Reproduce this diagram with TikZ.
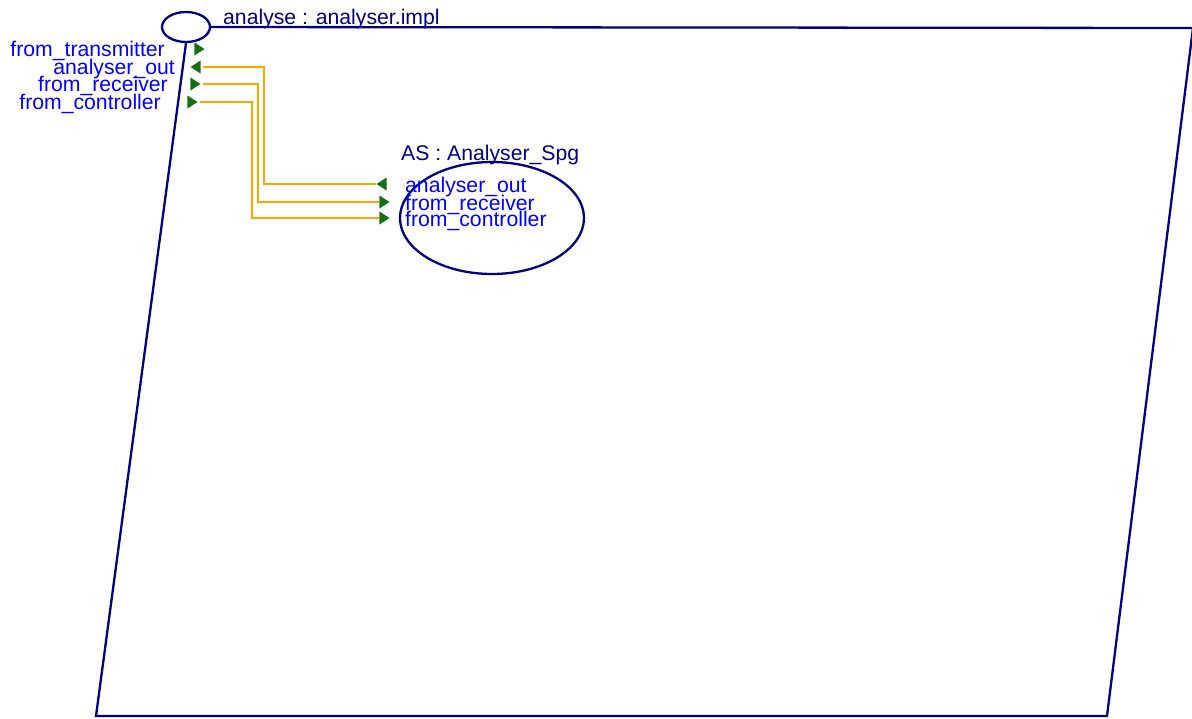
\documentclass[tikz,border=0pt]{standalone}
\usepackage{fontspec}
\setmainfont{Liberation Sans}
\usetikzlibrary{shapes.geometric}
\definecolor{framec}{HTML}{000080}
\definecolor{labelc}{HTML}{0000FF}
\definecolor{portc}{HTML}{157015}
\definecolor{wirec}{HTML}{FFA500}

\begin{document}
\begin{tikzpicture}[
  x=1pt,y=-1pt,
  font=\fontsize{21.2}{24}\selectfont,
  frame/.style={draw=framec,line width=2.3pt},
  ptitle/.style={text=framec,inner sep=0pt},
  plabel/.style={text=labelc,inner sep=0pt},
  portin/.style={isosceles triangle,isosceles triangle stretches,fill=portc,
    inner sep=0pt,minimum height=10pt,minimum width=13pt,shape border rotate=0},
  portout/.style={portin,shape border rotate=180},
  wire/.style={draw=wirec,line width=2.3pt},
]
\useasboundingbox (0,0) rectangle (1192,718);

% ===================== outer block =====================
\node[frame,ellipse,minimum width=48pt,minimum height=30pt,inner sep=0pt] (blk) at (186,27) {};
\node[ptitle,anchor=base west] (blkname) at (223,24.5) {analyse : analyser.impl};
\coordinate (tr) at (1193,28);
\coordinate (br) at (1107,716);
\coordinate (bl) at (96,716);
\draw[frame] (blk.east) -- (tr) -- (br) -- (bl) -- (blk.south);

% outer ports
\node[portin]  (otx)  at (198,49)  {};
\node[portout] (oout) at (197,67)  {};
\node[portin]  (orx)  at (194,84)  {};
\node[portin]  (octl) at (191,102) {};
\node[plabel,anchor=base east] (ltx)  at (165,56.5)  {from\_transmitter};
\node[plabel,anchor=base east] (lout) at (175,74.5)  {analyser\_out};
\node[plabel,anchor=base east] (lrx)  at (168,91.5)  {from\_receiver};
\node[plabel,anchor=base east] (lctl) at (161,109.5) {from\_controller};

% ===================== inner block AS =====================
\node[frame,ellipse,minimum width=184pt,minimum height=112pt,inner sep=0pt] (as) at (492,218) {};
\node[ptitle,anchor=base west] (asname) at (401,160.5) {AS : Analyser\_Spg};
\node[portout] (iout) at (383,184) {};
\node[portin]  (irx)  at (383,202) {};
\node[portin]  (ictl) at (383,218) {};
\node[plabel,anchor=base west] (mout) at (405,192) {analyser\_out};
\node[plabel,anchor=base west] (mrx)  at (405,210.5) {from\_receiver};
\node[plabel,anchor=base west] (mctl) at (405,226.5) {from\_controller};

% wires
\coordinate (kout) at (264,0);
\coordinate (krx)  at (258,0);
\coordinate (kctl) at (252,0);
\draw[wire] ([xshift=2pt]oout.east) -- (oout.east -| kout) |- (iout.west);
\draw[wire] ([xshift=2pt]orx.east) -- (orx.east -| krx) |- (irx.west);
\draw[wire] ([xshift=2pt]octl.east) -- (octl.east -| kctl) |- (ictl.west);
\end{tikzpicture}
\end{document}
